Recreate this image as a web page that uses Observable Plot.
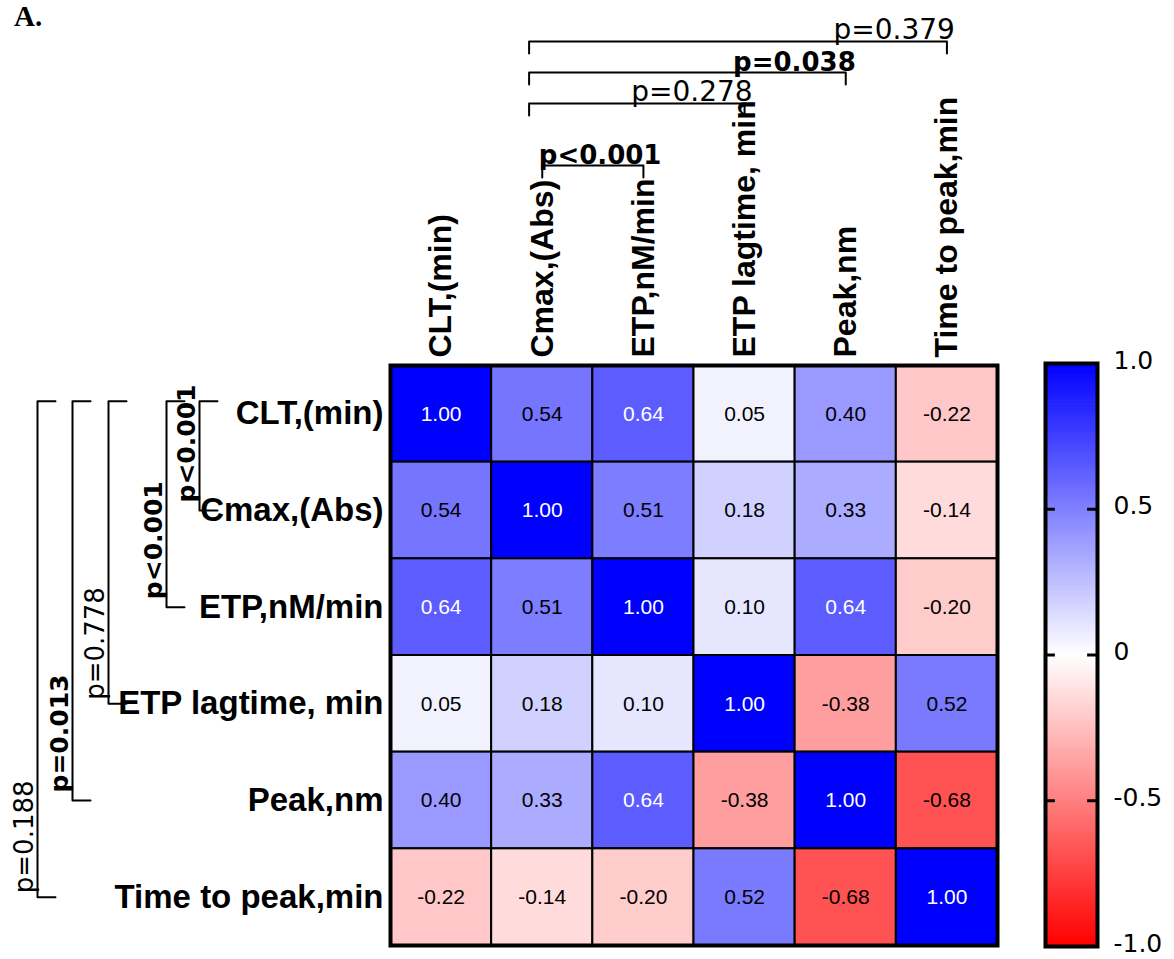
<!DOCTYPE html>
<html>
<head>
<meta charset="utf-8">
<script src="https://cdn.jsdelivr.net/npm/d3@7"></script>
<script src="https://cdn.jsdelivr.net/npm/@observablehq/plot@0.6"></script>
<style>
  html, body { margin: 0; padding: 0; background: #fff; }
  #figure { position: relative; width: 1174px; height: 959px; overflow: hidden; background: #fff; }
  #figure > svg { position: absolute; top: 0; }
  #panel { position: absolute; left: 14px; top: 2px; z-index: 2;
           font: bold 29px/29px "Liberation Serif", "Times New Roman", serif; color: #000; }
</style>
</head>
<body>
<div id="figure"><div id="panel">A.</div></div>
<script>
// Variables of the thrombin-generation / clotting panel
const variables = ["CLT,(min)", "Cmax,(Abs)", "ETP,nM/min", "ETP lagtime, min", "Peak,nm", "Time to peak,min"];

// Correlation matrix, one row per variable
const rCLT  = [1.00, 0.54, 0.64, 0.05, 0.40, -0.22];
const rCmax = [0.54, 1.00, 0.51, 0.18, 0.33, -0.14];
const rETP  = [0.64, 0.51, 1.00, 0.10, 0.64, -0.20];
const rLag  = [0.05, 0.18, 0.10, 1.00, -0.38, 0.52];
const rPeak = [0.40, 0.33, 0.64, -0.38, 1.00, -0.68];
const rTTP  = [-0.22, -0.14, -0.20, 0.52, -0.68, 1.00];
const correlation = [rCLT, rCmax, rETP, rLag, rPeak, rTTP];

// Pairwise comparisons between columns (indices into variables) and their p-values
const colPairs = [[1, 2], [1, 3], [1, 4], [1, 5]];
const colP = ["p<0.001", "p=0.278", "p=0.038", "p=0.379"];

// Pairwise comparisons between rows and their p-values
const rowPairs = [[0, 1], [0, 2], [0, 3], [0, 4], [0, 5]];
const rowP = ["p<0.001", "p<0.001", "p=0.778", "p=0.013", "p=0.188"];

// Colour bar tick values
const colorTicks = [-1, -0.5, 0, 0.5, 1];

// ---- layout ----
const W = 1174, H = 959;
const frame = {left: 390, right: 997, top: 365, bottom: 945};
const bar = {left: 1045, right: 1097, top: 363, bottom: 946, svgLeft: 1000};
const n = variables.length;
const cellW = (frame.right - frame.left) / n;
const cellH = (frame.bottom - frame.top) / n;
const sansFont = "'Liberation Sans', Arial, Helvetica, sans-serif";
const wideFont = "'DejaVu Sans', Verdana, sans-serif";
// distance (px) of each left bracket's spine from the heatmap frame
const leftSpinePx = [191, 224, 282, 318, 353];

const colorScale = {
  type: "linear",
  domain: [-1, 0, 1],
  range: ["#ff0000", "#ffffff", "#0000ff"],
  interpolate: "rgb"
};

const isSignificant = (p) => p.includes("<") || +p.split("=")[1] < 0.05;

// heatmap cells
const cells = correlation.flatMap((row, i) => row.map((value, j) => ({row: i, col: j, value})));

// ---- bracket geometry (in scale units; offsets expressed in pixels) ----
const anchorInset = 0.13;
const bracketPath = [];
const topLabels = [];
let stackRank = 0;
colPairs.forEach(([a, b], k) => {
  const span = b - a;
  const levelPx = span === 1 ? 200 : 231 + 31 * (++stackRank);
  const yLevel = -levelPx / cellH;
  const yTick = yLevel + 12 / cellH;
  const x1 = a + 0.5 - (span > 1 ? anchorInset : 0);
  const x2 = b + 0.5;
  const id = "c" + k;
  bracketPath.push({id, x: x1, y: yTick}, {id, x: x1, y: yLevel}, {id, x: x2, y: yLevel}, {id, x: x2, y: yTick});
  topLabels.push({x: x2, y: yLevel, text: colP[k], bold: isSignificant(colP[k]), span});
});

const leftLabels = [];
rowPairs.forEach(([a, b], k) => {
  const xLine = -leftSpinePx[k] / cellW;
  const xTick = xLine + 18 / cellW;
  const y1 = a + 0.5 - anchorInset;
  const y2 = b + 0.5;
  const id = "r" + k;
  bracketPath.push({id, x: xTick, y: y1}, {id, x: xLine, y: y1}, {id, x: xLine, y: y2}, {id, x: xTick, y: y2});
  leftLabels.push({x: xLine, y: y2, text: rowP[k], bold: isSignificant(rowP[k])});
});

const centers = d3.range(n).map(i => i + 0.5);

// ---- heatmap ----
const heatmap = Plot.plot({
  width: W,
  height: H,
  marginLeft: frame.left,
  marginRight: W - frame.right,
  marginTop: frame.top,
  marginBottom: H - frame.bottom,
  x: {domain: [0, n]},
  y: {domain: [0, n], reverse: true},
  color: colorScale,
  style: {fontFamily: sansFont, background: "transparent", overflow: "visible", color: "#000"},
  marks: [
    Plot.rect(cells, {
      x1: "col", x2: d => d.col + 1, y1: "row", y2: d => d.row + 1,
      fill: "value", stroke: "#000", strokeWidth: 2
    }),
    Plot.text(cells.filter(d => d.value > 0.6), {
      x: d => d.col + 0.5, y: d => d.row + 0.5, text: d => d.value.toFixed(2),
      fill: "#fff", fontSize: 21
    }),
    Plot.text(cells.filter(d => d.value <= 0.6), {
      x: d => d.col + 0.5, y: d => d.row + 0.5, text: d => d.value.toFixed(2),
      fill: "#000", fontSize: 21
    }),
    Plot.frame({stroke: "#000", strokeWidth: 4}),
    Plot.axisX({
      anchor: "top", ticks: centers, tickFormat: d => variables[Math.floor(d)],
      tickSize: 0, tickPadding: 8, tickRotate: -90, textAnchor: "start", lineAnchor: "middle",
      fontSize: 32, fontWeight: "bold", fill: "#000", label: null
    }),
    Plot.axisY({
      anchor: "left", ticks: centers, tickFormat: d => variables[Math.floor(d)],
      tickSize: 0, tickPadding: 7, textAnchor: "end",
      fontSize: 33, fontWeight: "bold", fill: "#000", label: null
    }),
    // significance brackets
    Plot.line(bracketPath, {x: "x", y: "y", z: "id", stroke: "#000", strokeWidth: 2, curve: "linear"}),
    Plot.text(topLabels.filter(d => !d.bold), {
      x: "x", y: "y", text: "text", textAnchor: "end", lineAnchor: "bottom",
      dx: 8, dy: -3, fontFamily: wideFont, fontSize: 28, fill: "#000"
    }),
    Plot.text(topLabels.filter(d => d.bold && d.span > 1), {
      x: "x", y: "y", text: "text", textAnchor: "end", lineAnchor: "bottom",
      dx: 10, dy: -2, fontFamily: wideFont, fontSize: 26, fontWeight: "bold", fill: "#000"
    }),
    Plot.text(topLabels.filter(d => d.bold && d.span === 1), {
      x: "x", y: "y", text: "text", textAnchor: "end", lineAnchor: "bottom",
      dx: 18, dy: -2, fontFamily: wideFont, fontSize: 26, fontWeight: "bold", fill: "#000"
    }),
    Plot.text(leftLabels.filter(d => !d.bold), {
      x: "x", y: "y", text: "text", rotate: -90, textAnchor: "start", lineAnchor: "bottom",
      dx: -5, dy: -4, fontFamily: wideFont, fontSize: 26, fill: "#000"
    }),
    Plot.text(leftLabels.filter(d => d.bold), {
      x: "x", y: "y", text: "text", rotate: -90, textAnchor: "start", lineAnchor: "bottom",
      dx: -5, dy: -8, fontFamily: wideFont, fontSize: 25, fontWeight: "bold", fill: "#000"
    })
  ]
});

// ---- colour bar ----
const step = 0.005;
const ramp = d3.range(-1, 1, step);
const barWidth = W - bar.svgLeft;
const colorbar = Plot.plot({
  width: barWidth,
  height: H,
  marginLeft: bar.left - bar.svgLeft,
  marginRight: W - bar.right,
  marginTop: bar.top,
  marginBottom: H - bar.bottom,
  x: {domain: [0, 1], axis: null},
  y: {domain: [-1, 1]},
  color: colorScale,
  style: {fontFamily: wideFont, background: "transparent", overflow: "visible", color: "#000"},
  marks: [
    Plot.rect(ramp, {
      x1: 0, x2: 1, y1: d => d, y2: d => Math.min(1, d + step * 1.5),
      fill: d => d + step / 2
    }),
    Plot.ruleY([-0.5, 0, 0.5], {x1: 0, x2: 0.19, stroke: "#000", strokeWidth: 3}),
    Plot.ruleY([-0.5, 0, 0.5], {x1: 0.81, x2: 1, stroke: "#000", strokeWidth: 3}),
    Plot.frame({stroke: "#000", strokeWidth: 4}),
    Plot.axisY(colorTicks, {
      anchor: "right", tickSize: 0, tickPadding: 16, dy: -3,
      tickFormat: d => d === 0 ? "0" : d.toFixed(1),
      fontSize: 25, fill: "#000", label: null
    })
  ]
});

const fig = document.getElementById("figure");
heatmap.style.left = "0px";
colorbar.style.left = bar.svgLeft + "px";
fig.appendChild(heatmap);
fig.appendChild(colorbar);
</script>
</body>
</html>
